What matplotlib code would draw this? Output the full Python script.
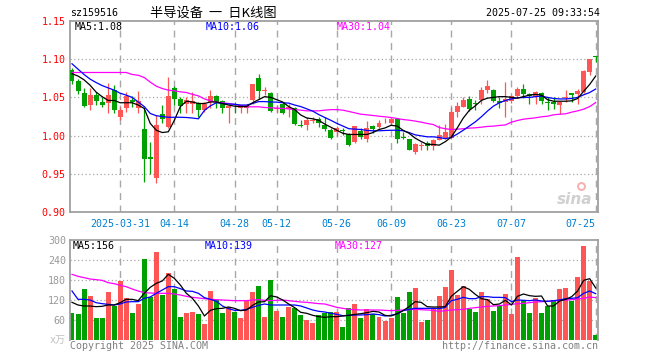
import matplotlib
matplotlib.use('Agg')
import matplotlib.pyplot as plt
import numpy as np

# ---------------- data ----------------
date_ticks = [8, 17, 27, 34, 44, 53, 63, 73, 87]
date_labels = ['2025-03-31', '04-14', '04-28', '05-12', '05-26', '06-09', '06-23', '07-07', '07-25']

opens = [1.086, 1.072, 1.056, 1.040, 1.053, 1.044, 1.043, 1.060, 1.025, 1.036,
         1.046, 1.036, 1.0085, 0.972, 0.945, 1.028, 1.0115, 1.0625, 1.048, 1.042,
         1.042, 1.0433, 1.033, 1.044, 1.0516, 1.045, 1.0355, 1.036, 1.0355, 1.0355,
         1.047, 1.076, 1.0585, 1.056, 1.0345, 1.042, 1.035, 1.0355, 1.0137, 1.0137,
         1.019, 1.0215, 1.0137, 1.0071, 1.005, 1.0075, 1.0019, 0.9919, 1.0058, 0.9954,
         1.0124, 1.0115, 1.0185, 1.017, 1.0215, 0.9975, 0.9954, 0.9788, 0.987, 0.9906,
         0.9862, 0.994, 0.9963, 0.997, 1.031, 1.0376, 1.0485, 1.0425, 1.0472, 1.0594,
         1.0603, 1.0455, 1.0442, 1.045, 1.0516, 1.0616, 1.055, 1.0507, 1.0564, 1.0436,
         1.0442, 1.0398, 1.0486, 1.056, 1.055, 1.0573, 1.0834, 1.1039]
highs = [1.088, 1.074, 1.062, 1.062, 1.057, 1.051, 1.069, 1.066, 1.037, 1.057,
         1.052, 1.059, 1.0355, 0.992, 1.027, 1.040, 1.077, 1.065, 1.051, 1.051,
         1.057, 1.044, 1.044, 1.060, 1.053, 1.046, 1.0385, 1.0442, 1.040, 1.042,
         1.068, 1.081, 1.064, 1.057, 1.0398, 1.044, 1.042, 1.0377, 1.0202, 1.0246,
         1.0246, 1.0246, 1.0246, 1.0093, 1.0124, 1.0106, 1.0028, 1.0124, 1.0093, 1.0189,
         1.0137, 1.0202, 1.0224, 1.0224, 1.0224, 1.0045, 0.9962, 0.9897, 0.9919, 0.9928,
         0.9954, 1.0137, 1.0146, 1.0376, 1.0442, 1.0507, 1.0516, 1.0464, 1.0638, 1.0725,
         1.0616, 1.051, 1.0703, 1.0529, 1.0638, 1.0673, 1.056, 1.0586, 1.0573, 1.0507,
         1.0507, 1.0442, 1.0594, 1.056, 1.0616, 1.0856, 1.1009, 1.104]
lows = [1.068, 1.055, 1.038, 1.033, 1.040, 1.038, 1.029, 1.030, 1.020, 1.031,
        1.038, 1.030, 0.9396, 0.950, 0.938, 1.016, 1.0106, 1.040, 1.030, 1.029,
        1.030, 1.024, 1.031, 1.0355, 1.0355, 1.029, 1.016, 1.0298, 1.029, 1.030,
        1.042, 1.048, 1.0529, 1.031, 1.0298, 1.028, 1.025, 1.0137, 1.0115, 1.0071,
        1.0159, 1.0115, 1.0063, 0.9962, 0.9997, 1.0002, 0.9867, 0.9897, 0.9954, 0.9919,
        1.0037, 1.0106, 1.0159, 1.0137, 0.9906, 0.9954, 0.981, 0.9753, 0.981, 0.981,
        0.981, 0.994, 0.9954, 0.9962, 1.0246, 1.0376, 1.0324, 1.0333, 1.042, 1.056,
        1.0442, 1.0355, 1.0237, 1.0425, 1.050, 1.0486, 1.042, 1.042, 1.042, 1.0333,
        1.0342, 1.0289, 1.0442, 1.0442, 1.0412, 1.0564, 1.0791, 1.0965]
closes = [1.072, 1.058, 1.039, 1.053, 1.045, 1.040, 1.053, 1.033, 1.033, 1.052,
          1.044, 1.045, 0.969, 0.970, 1.014, 1.0215, 1.0516, 1.048, 1.039, 1.046,
          1.045, 1.034, 1.042, 1.0516, 1.044, 1.0355, 1.0385, 1.0355, 1.040, 1.040,
          1.067, 1.059, 1.0603, 1.0324, 1.036, 1.0298, 1.0375, 1.015, 1.0124, 1.020,
          1.0205, 1.017, 1.008, 0.9975, 1.0093, 1.0066, 0.9875, 1.0124, 0.9984, 1.0093,
          1.008, 1.017, 1.019, 1.0215, 0.9954, 0.997, 0.9818, 0.9888, 0.9875, 0.9862,
          0.994, 1.0006, 1.005, 1.031, 1.0385, 1.0472, 1.0354, 1.042, 1.0594, 1.0647,
          1.0455, 1.043, 1.0485, 1.0516, 1.0616, 1.055, 1.0516, 1.0573, 1.045, 1.0433,
          1.0411, 1.0442, 1.0507, 1.053, 1.0586, 1.0843, 1.100, 1.1035]

ma5 = [1.081, 1.078, 1.073, 1.066, 1.057, 1.051, 1.046, 1.046, 1.043, 1.043,
       1.043, 1.040, 1.0355, 1.016, 1.007, 1.004, 1.005, 1.020, 1.038, 1.045,
       1.044, 1.042, 1.042, 1.044, 1.044, 1.042, 1.040, 1.0385, 1.038, 1.038,
       1.043, 1.047, 1.051, 1.050, 1.047, 1.044, 1.038, 1.034, 1.027, 1.023,
       1.022, 1.020, 1.015, 1.011, 1.007, 1.003, 1.0015, 1.0015, 1.0015, 1.0015,
       1.004, 1.008, 1.010, 1.0135, 1.0125, 1.007, 1.003, 0.9967, 0.9923, 0.9884,
       0.9884, 0.9875, 0.992, 0.998, 1.010, 1.023, 1.033, 1.039, 1.046, 1.049,
       1.050, 1.051, 1.051, 1.050, 1.049, 1.051, 1.053, 1.054, 1.053, 1.047,
       1.045, 1.045, 1.045, 1.0455, 1.0486, 1.058, 1.067, 1.078]
ma10 = [1.094, 1.087, 1.080, 1.074, 1.0695, 1.0655, 1.0625, 1.0595, 1.0555, 1.053,
        1.050, 1.044, 1.038, 1.029, 1.026, 1.025, 1.024, 1.024, 1.024, 1.0237,
        1.023, 1.022, 1.033, 1.039, 1.043, 1.042, 1.0415, 1.041, 1.040, 1.040,
        1.042, 1.0445, 1.0445, 1.044, 1.0438, 1.043, 1.0425, 1.040, 1.038, 1.035,
        1.032, 1.0275, 1.0237, 1.020, 1.016, 1.0125, 1.009, 1.0085, 1.008, 1.0067,
        1.0063, 1.0063, 1.0067, 1.007, 1.007, 1.0063, 1.004, 1.001, 0.9997, 0.9984,
        0.9984, 0.9975, 0.996, 0.9975, 1.002, 1.007, 1.0125, 1.018, 1.0246, 1.032,
        1.0385, 1.043, 1.046, 1.048, 1.0494, 1.050, 1.050, 1.051, 1.0516, 1.050,
        1.0486, 1.048, 1.048, 1.0486, 1.050, 1.0534, 1.0564, 1.061]
ma30 = [1.0826, 1.0826, 1.0826, 1.0826, 1.0826, 1.0826, 1.0826, 1.0826, 1.0826, 1.0826,
        1.080, 1.079, 1.076, 1.070, 1.0647, 1.0616, 1.0595, 1.0586, 1.0573, 1.0564,
        1.054, 1.052, 1.048, 1.0455, 1.0438, 1.043, 1.042, 1.0407, 1.0394, 1.0377,
        1.0377, 1.0377, 1.0368, 1.0364, 1.036, 1.0355, 1.035, 1.034, 1.0333, 1.0324,
        1.0324, 1.0324, 1.0333, 1.034, 1.034, 1.0333, 1.0316, 1.0298, 1.028, 1.0272,
        1.0263, 1.0254, 1.0246, 1.0237, 1.0224, 1.021, 1.0202, 1.019, 1.0176, 1.0159,
        1.0145, 1.0106, 1.009, 1.008, 1.0084, 1.009, 1.0098, 1.0102, 1.011, 1.012,
        1.0124, 1.0133, 1.014, 1.0176, 1.0198, 1.0215, 1.0224, 1.0233, 1.0246, 1.0254,
        1.0272, 1.028, 1.0285, 1.0307, 1.0324, 1.0346, 1.038, 1.0433]

volumes = [82, 78, 153, 132, 66, 66, 144, 103, 178, 126,
           82, 108, 243, 130, 264, 136, 200, 153, 69, 82,
           85, 78, 48, 147, 120, 82, 100, 84, 66, 116,
           144, 162, 68, 180, 87, 68, 99, 97, 75, 60,
           51, 74, 82, 84, 84, 39, 95, 108, 66, 93,
           79, 70, 58, 66, 129, 82, 143, 156, 55, 60,
           95, 132, 160, 210, 135, 162, 93, 85, 144, 122,
           87, 102, 138, 78, 250, 120, 81, 127, 81, 102,
           120, 153, 156, 117, 189, 282, 177, 15]
vma5 = [113, 105, 102, 102, 100, 101, 105, 105, 112, 122,
        122, 118, 140, 158, 170, 177, 197, 185, 165, 140,
        125, 102, 72, 89, 94, 95, 99, 95, 88, 90,
        104, 114, 115, 133, 129, 120, 108, 97, 83, 80,
        74, 70, 68, 70, 70, 72, 74, 77, 79, 82,
        86, 84, 74, 72, 79, 88, 100, 115, 113, 100,
        99, 99, 100, 131, 146, 160, 152, 137, 124, 121,
        106, 108, 119, 105, 131, 138, 133, 131, 132, 102,
        102, 117, 122, 130, 147, 179, 184, 156]
vma10 = [147, 122, 122, 120, 112, 109, 107, 105, 108, 114,
         115, 115, 125, 129, 140, 150, 160, 160, 154, 147,
         146, 140, 127, 122, 116, 102, 94, 89, 89, 92,
         98, 104, 108, 105, 105, 105, 105, 105, 102, 96,
         90, 86, 84, 80, 77, 73, 74, 75, 75, 76,
         78, 76, 72, 74, 78, 88, 92, 95, 95, 95,
         95, 94, 98, 118, 122, 128, 124, 124, 130, 130,
         128, 128, 127, 115, 120, 119, 118, 120, 117, 116,
         118, 120, 124, 125, 127, 140, 147, 139]
vma30 = [197, 191, 187, 183, 181, 179, 172, 169, 164, 160,
         153, 147, 142, 141, 140, 140, 140, 138, 135, 131,
         128, 126, 124, 122, 121, 120, 119, 118, 118, 118,
         120, 121, 119, 118, 119, 120, 118, 116, 114, 113,
         111, 109, 108, 103, 98, 95, 92, 91, 90, 90,
         90, 90, 89, 88, 89, 90, 91, 92, 91, 90,
         89, 86, 88, 90, 91, 92, 95, 97, 99, 101,
         102, 103, 105, 107, 109, 110, 112, 114, 115, 116,
         117, 119, 120, 121, 123, 125, 129, 127]

price_ticks = [0.90, 0.95, 1.00, 1.05, 1.10, 1.15]
vol_ticks = [60, 120, 180, 240, 300]

# ---------------- style ----------------
RED = '#FF5555'
GREEN = '#00A000'
BORDER = '#A0A0A0'
GRID = '#A8A8A8'
MONO = 'DejaVu Sans Mono'
FS = 7.2

W, H = 660, 360
fig = plt.figure(figsize=(6.6, 3.6), dpi=100)
fig.patch.set_facecolor('white')


def rect(l, t, r, b):
    return [l / W, 1 - b / H, (r - l) / W, (b - t) / H]


axp = fig.add_axes(rect(70, 21, 598, 212))
axv = fig.add_axes(rect(70, 240, 598, 340))

o = np.array(opens); c = np.array(closes)
hi = np.array(highs); lo = np.array(lows)
x = np.arange(len(c))
up = c >= o
cols = np.where(up, RED, GREEN)

xlim = (-0.33, 87.38)

for ax in (axp, axv):
    ax.set_xlim(*xlim)
    for t in date_ticks:
        ax.axvline(t, color=GRID, lw=1.0, ls=(0, (5, 4)), zorder=0)
    for s in ax.spines.values():
        s.set_color(BORDER)
        s.set_linewidth(1.3)
    ax.tick_params(length=0)

# price panel
axp.set_ylim(0.90, 1.15)
for v in price_ticks[1:-1]:
    axp.axhline(v, color=GRID, lw=0.9, ls=(0, (1, 2)), zorder=0)
axp.vlines(x, lo, hi, colors=cols, lw=0.9, zorder=2)
body_b = np.minimum(o, c)
body_h = np.maximum(np.abs(c - o), 0.0009)
axp.bar(x, body_h, bottom=body_b, width=0.83, color=cols, lw=0, zorder=3)
axp.plot(x, ma30, color='#FF00FF', lw=0.9, zorder=4)
axp.plot(x, ma10, color='#0000FF', lw=0.9, zorder=4)
axp.plot(x, ma5, color='#000000', lw=0.9, zorder=4)

axp.set_yticks(price_ticks)
axp.set_yticklabels(['%.2f' % v for v in price_ticks], color='#FF0000',
                    fontsize=FS, family=MONO)
axp.tick_params(axis='y', pad=3)
axp.set_xticks(date_ticks)
lbls = axp.set_xticklabels(date_labels, color='#0080D0', fontsize=FS, family=MONO)
lbls[-1].set_horizontalalignment('right')
axp.tick_params(axis='x', pad=5)

axp.text(5 / 528, 1 - 6 / 191, 'MA5:%.2f' % ma5[-1], transform=axp.transAxes,
         fontsize=FS, family=MONO, color='black', va='center', ha='left')
axp.text(136 / 528, 1 - 6 / 191, 'MA10:%.2f' % ma10[-1], transform=axp.transAxes,
         fontsize=FS, family=MONO, color='#0000FF', va='center', ha='left')
axp.text(267 / 528, 1 - 6 / 191, 'MA30:%.2f' % ma30[-1], transform=axp.transAxes,
         fontsize=FS, family=MONO, color='#FF00FF', va='center', ha='left')

# sina watermark
axp.text(0.99, 0.025, 'sina', transform=axp.transAxes, fontsize=11,
         fontweight='bold', style='italic', color='#D0D0D0', ha='right', va='bottom',
         zorder=1)
axp.plot([0.968], [0.135], marker='o', ms=5, mfc='none', mec='#F6B0B0', mew=1.4,
         transform=axp.transAxes, zorder=1)

# volume panel
axv.set_ylim(0, 300)
for v in vol_ticks[:-1]:
    axv.axhline(v, color=GRID, lw=0.9, ls=(0, (1, 2)), zorder=0)
axv.bar(x, volumes, width=0.83, color=cols, lw=0, zorder=2)
axv.plot(x, vma30, color='#FF00FF', lw=0.9, zorder=4)
axv.plot(x, vma10, color='#0000FF', lw=0.9, zorder=4)
axv.plot(x, vma5, color='#000000', lw=0.9, zorder=4)
axv.spines['bottom'].set_visible(False)
axv.set_xticks([])
axv.set_yticks(vol_ticks)
axv.set_yticklabels([str(v) for v in vol_ticks], color='#999999',
                    fontsize=FS, family=MONO)
axv.tick_params(axis='y', pad=3)
axv.text(-4 / 528, 0, 'x万', transform=axv.transAxes, fontsize=FS,
         family=['DejaVu Sans Mono', 'Noto Sans CJK SC'], color='#C0C0C0',
         ha='right', va='center')

axv.text(3 / 528, 1 - 6 / 100, 'MA5:%d' % vma5[-1], transform=axv.transAxes,
         fontsize=FS, family=MONO, color='black', va='center', ha='left')
axv.text(135 / 528, 1 - 6 / 100, 'MA10:%d' % vma10[-1], transform=axv.transAxes,
         fontsize=FS, family=MONO, color='#0000FF', va='center', ha='left')
axv.text(265 / 528, 1 - 6 / 100, 'MA30:%d' % vma30[-1], transform=axv.transAxes,
         fontsize=FS, family=MONO, color='#FF00FF', va='center', ha='left')

# header / footer
fig.text(70 / W, 1 - 13 / H, 'sz159516', fontsize=FS, family=MONO,
         color='black', va='center', ha='left')
fig.text(150 / W, 1 - 13 / H, '半导设备  一  日K线图', fontsize=9.5,
         family=['Noto Sans CJK SC', 'DejaVu Sans'], color='black',
         va='center', ha='left')
fig.text(600 / W, 1 - 13 / H, '2025-07-25 09:33:54', fontsize=FS, family=MONO,
         color='black', va='center', ha='right')
fig.text(70 / W, 1 - 346 / H, 'Copyright 2025 SINA.COM', fontsize=FS,
         family=MONO, color='#808080', va='center', ha='left')
fig.text(598 / W, 1 - 346 / H, 'http://finance.sina.com.cn', fontsize=FS,
         family=MONO, color='#808080', va='center', ha='right')

fig.savefig('out.png', dpi=100, facecolor='white')
